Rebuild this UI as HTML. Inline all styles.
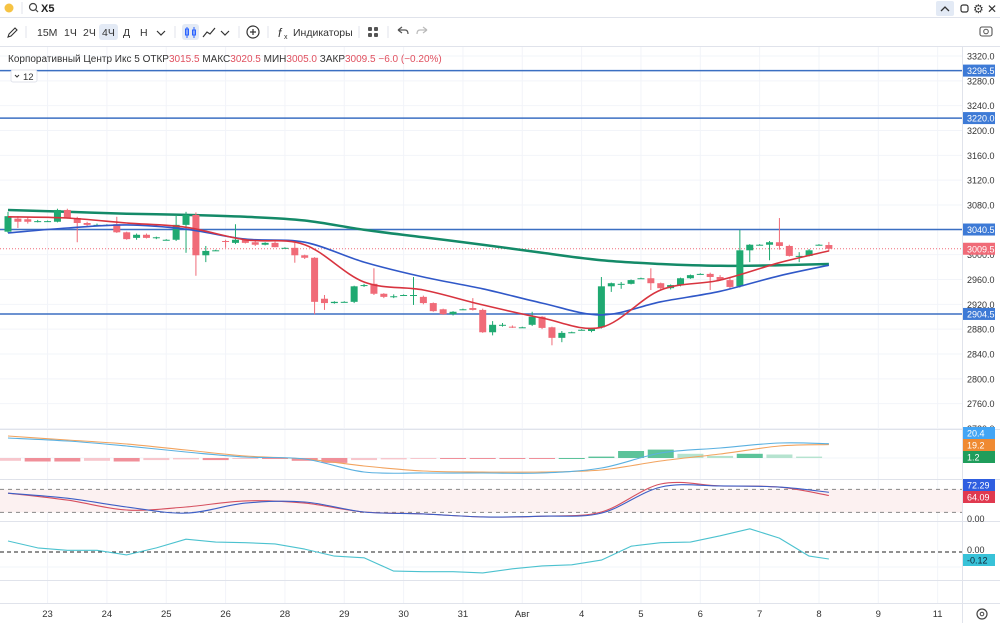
<!DOCTYPE html>
<html><head><meta charset="utf-8">
<style>
html,body{margin:0;padding:0;background:#fff;width:1000px;height:623px;overflow:hidden;font-family:"Liberation Sans","Noto Sans CJK SC",sans-serif}
svg text{font-family:"Liberation Sans","Noto Sans CJK SC",sans-serif}
</style></head>
<body>
<svg id="chart" width="1000" height="623" viewBox="0 0 1000 623" xmlns="http://www.w3.org/2000/svg">
  <g>
    <circle cx="9" cy="8" r="4.5" fill="#f6c343"/>
    <line x1="22" y1="2" x2="22" y2="14" stroke="#e0e3eb"/>
    <g>
      <circle cx="33" cy="7" r="3.5" fill="none" stroke="#444" stroke-width="1.2"/>
      <line x1="35.5" y1="9.5" x2="38" y2="12" stroke="#444" stroke-width="1.2"/>
      <text x="41" y="12" font-size="11" font-weight="bold" fill="#222">X5</text>
    </g>
    <rect x="936" y="1" width="18" height="15" rx="2" fill="#e3eaf5"/>
    <path d="M941 11 L945 7 L949 11" fill="none" stroke="#333" stroke-width="1.3"/>
    <rect x="961" y="5" width="7" height="7" rx="2" fill="none" stroke="#333" stroke-width="1.2"/>
    <text x="973" y="13" font-size="12" fill="#333">⚙</text>
    <text x="987" y="13" font-size="12" fill="#333">✕</text>
    <line x1="0" y1="17.5" x2="1000" y2="17.5" stroke="#e0e3eb"/>
  </g>
  <g font-size="10.5" fill="#333">
    <path d="M8 37 L9 34 L15 28 L17 30 L11 36 Z" fill="none" stroke="#333" stroke-width="1.1"/>
    <line x1="26" y1="26" x2="26" y2="38" stroke="#e0e3eb"/>
    <text x="37" y="36" fill="#333">15М</text>
    <text x="64" y="36" fill="#333">1Ч</text>
    <text x="83" y="36" fill="#333">2Ч</text>
    <rect x="99" y="24" width="19" height="16" rx="3" fill="#e3eaf5"/>
    <text x="102" y="36" fill="#333">4Ч</text>
    <text x="123" y="36" fill="#333">Д</text>
    <text x="140" y="36" fill="#333">Н</text>
    <path d="M157 31 L161 35 L165 31" fill="none" stroke="#333" stroke-width="1.2"/>
    <line x1="175" y1="26" x2="175" y2="38" stroke="#e0e3eb"/>
    <rect x="182" y="24" width="17" height="16" rx="3" fill="#e3eaf5"/>
    <path d="M187 27 V38 M194 27 V38" stroke="#2962ff" stroke-width="1"/>
    <rect x="185.5" y="29" width="3" height="6" fill="none" stroke="#2962ff"/>
    <rect x="192.5" y="30" width="3" height="5" fill="none" stroke="#2962ff"/>
    <path d="M203 37 L207 32 L210 34 L215 28" fill="none" stroke="#333" stroke-width="1.2"/>
    <path d="M221 31 L225 35 L229 31" fill="none" stroke="#333" stroke-width="1.2"/>
    <line x1="239" y1="26" x2="239" y2="38" stroke="#e0e3eb"/>
    <g>
      <circle cx="253" cy="32" r="6" fill="none" stroke="#333" stroke-width="1.2"/>
      <path d="M250 32 H256 M253 29 V35" stroke="#333" stroke-width="1.2"/>
    </g>
    <line x1="268" y1="26" x2="268" y2="38" stroke="#e0e3eb"/>
    <g>
      <text x="278" y="37" font-size="12" font-style="italic" fill="#333">f</text>
      <text x="284" y="39" font-size="7" fill="#333">x</text>
      <text x="293" y="36" fill="#333">Индикаторы</text>
    </g>
    <line x1="359" y1="26" x2="359" y2="38" stroke="#e0e3eb"/>
    <g fill="#555">
      <rect x="368" y="27" width="4" height="4" rx="1"/><rect x="374" y="27" width="4" height="4" rx="1"/>
      <rect x="368" y="33" width="4" height="4" rx="1"/><rect x="374" y="33" width="4" height="4" rx="1"/>
    </g>
    <line x1="388" y1="26" x2="388" y2="38" stroke="#e0e3eb"/>
    <path d="M398 30 L402 27 M398 30 L402 33 M398 30 H405 Q408 30 408 34" fill="none" stroke="#555" stroke-width="1.2"/>
    <path d="M427 30 L423 27 M427 30 L423 33 M427 30 H420 Q417 30 417 34" fill="none" stroke="#bbb" stroke-width="1.2"/>
    <g>
      <rect x="980" y="27" width="12" height="9" rx="2" fill="none" stroke="#555" stroke-width="1.1"/>
      <circle cx="986" cy="31.5" r="2.3" fill="none" stroke="#555" stroke-width="1"/>
    </g>
    <line x1="0" y1="46.5" x2="1000" y2="46.5" stroke="#e0e3eb"/>
  </g>
  <g id="grid"></g>
  <g id="panes"></g>
  <g id="price"></g>
  <g id="legend">
    <text x="8" y="62" font-size="10" fill="#333">Корпоративный Центр Икс 5 ОТКР<tspan fill="#e0505f">3015.5</tspan>  МАКС<tspan fill="#e0505f">3020.5</tspan>  МИН<tspan fill="#e0505f">3005.0</tspan>  ЗАКР<tspan fill="#e0505f">3009.5</tspan>  <tspan fill="#e0505f">−6.0 (−0.20%)</tspan></text>
    <g>
      <rect x="11" y="70" width="26" height="12" rx="2" fill="#fff" stroke="#e0e3eb"/>
      <path d="M15 75 L17 77 L19 75" fill="none" stroke="#333" stroke-width="1"/>
      <text x="23" y="80" font-size="9.5" fill="#333">12</text>
    </g>
  </g>
  <g id="axis"></g>
</svg>
<script>
const opens  = [3037,3058,3057,3054,3054,3053,3072,3059,3051,3048,3048,3049,3036,3027,3032,3027,3024,3024,3048,3064,2999,3007,3022,3019,3024,3020,3016,3019,3011,3011,2999,2995,2929,2922,2924,2924,2951,2953,2937,2932,2935,2935,2932,2922,2912,2904,2912,2914,2911,2875,2887,2884,2883,2887,2900,2883,2866,2875,2879,2877,2883,2949,2953,2953,2962,2962,2954,2946,2951,2962,2969,2969,2964,2959,2949,3007,3016,3016,3020,3014,2998,2998,3016,3015.5];
const highs  = [3069,3062,3060,3056,3055,3074,3074,3061,3053,3050,3049,3061,3037,3034,3034,3029,3025,3064,3069,3068,3014,3008,3024,3049,3025,3022,3020,3021,3012,3019,3000,2996,2935,2925,2925,2950,2953,2978,2938,2936,2936,2964,2934,2923,2913,2909,2913,2930,2913,2893,2890,2886,2884,2908,2901,2884,2877,2876,2880,2882,2964,2955,2956,2960,2963,2978,2955,2952,2963,2968,2970,2971,2967,2964,3040,3017,3017,3022,3059,3016,3004,3009,3017,3020.5];
const lows   = [3035,3043,3050,3052,3053,3052,3058,3020,3046,3046,3047,3035,3024,3024,3026,3025,3023,3022,3003,2966,2988,3006,3011,3017,3018,3014,3015,3012,3010,2987,2993,2904,2911,2921,2923,2922,2948,2935,2930,2930,2934,2919,2920,2908,2903,2902,2911,2910,2874,2870,2884,2882,2882,2885,2880,2854,2859,2874,2878,2875,2881,2940,2945,2952,2961,2943,2944,2944,2949,2961,2968,2943,2958,2945,2947,2988,3015,2991,3008,2997,2988,2997,3015,3005];
const closes = [3062,3053,3053,3054,3054,3072,3059,3051,3048,3048,3048,3036,3025,3032,3027,3028,3024,3048,3064,2999,3006,3007,3021,3024,3019,3016,3019,3012,3011,2999,2995,2924,2922,2924,2924,2949,2951,2937,2932,2933,2935,2935,2922,2909,2904,2908,2912,2911,2875,2887,2887,2883,2883,2900,2882,2866,2874,2875,2879,2882,2949,2954,2953,2959,2962,2954,2946,2951,2962,2967,2969,2964,2959,2948,3007,3016,3016,3020,3014,2998,2998,3007,3016,3009.5];
const maIdx   = [0,6,12,18,24,30,36,42,48,54,60,66,72,78,83];
const maFast  = [3061,3059,3051,3044,3024,3016,2956,2943,2919,2898,2883,2943,2959,2987,3006];
const maMid   = [3035,3043,3048,3041,3025,3020,2988,2964,2945,2922,2903,2924,2941,2966,2983];
const maSlow  = [3072,3069,3066,3064,3061,3055,3040,3028,3016,3003,2991,2985,2982,2983,2985];
const hLevels = [3296.5,3220.0,3040.5,2904.5];
const priceTicks = [3320,3280,3240,3200,3160,3120,3080,3040,3000,2960,2920,2880,2840,2800,2760,2720];
const lastPrice = 3009.5;
const macdLine   = [28.6,24.3,17.1,8.6,1.4,-1.4,-20,-21.4,-21.4,-21.4,-14.3,7.1,14.3,21.4,20.4];
const signalLine = [31.4,25.7,20,11.4,2.9,-1.4,-11.4,-18.6,-20,-20,-17.1,-4.3,5.7,17.1,19.2];
const histIdx  = [0,3,6,9,12,15,18,21,24,27,30,33,36,39,42,45,48,51,54,57,60,63,66,69,72,75,78,81];
const histVals = [-4,-5,-5,-4,-5,-3,-2,-3,-1,-1,-4,-7,-3,-2,-1,-1,-1,-1,-1,0,2,10,12,6,3,6,5,2];
const stochK = [70,57,34,18,44,47,21,16,8,10,18,86,89,86,72.29];
const stochD = [70,52,26,34,50,44,21,16,8,10,21,94,89,86,64.09];
const oscIdx  = [0,3,6,9,12,15,18,21,24,27,30,33,36,39,42,45,48,51,54,57,60,63,66,69,72,75,78,81,83];
const oscVals = [0.19,0.07,0.03,0.03,-0.05,0.07,0.22,0.17,0.16,0.14,0.05,-0.07,-0.10,-0.33,-0.34,-0.34,-0.36,-0.29,-0.24,-0.22,-0.14,0.10,0.16,0.17,0.28,0.40,0.24,-0.07,-0.12];
const dayLabels = ['23','24','25','26','28','29','30','31','Авг','4','5','6','7','8','9','11'];

const NS='http://www.w3.org/2000/svg';
function mk(tag, attrs, parent){const e=document.createElementNS(NS,tag);for(const k in attrs)e.setAttribute(k,attrs[k]);parent.appendChild(e);return e;}
const xOf = i => 8 + i*9.89;
const yP  = p => 56 + (3320-p)*0.6208;
const yM  = v => 458 - v*0.7;
const yS  = v => 520 - v*0.383;
const yO  = v => 552 - v*58;
const AX = 962;
const UP='#1fa971', DN='#f06b78';

const grid=document.getElementById('grid'), panes=document.getElementById('panes'), price=document.getElementById('price'), axis=document.getElementById('axis');

dayLabels.forEach((d,k)=>{
  const x=xOf(4+6*k);
  const g=mk('line',{x1:x,y1:47,x2:x,y2:603,stroke:'#f2f4f9'},grid);
  
  
});
priceTicks.forEach(p=>{
  const y=yP(p);
  const g=mk('line',{x1:0,y1:y,x2:AX,y2:y,stroke:'#f2f4f9'},grid);
  
  
});

mk('rect',{x:0,y:429,width:AX,height:175,fill:'#fff'},panes);
dayLabels.forEach((d,k)=>{const x=xOf(4+6*k);mk('line',{x1:x,y1:430,x2:x,y2:603,stroke:'#f2f4f9'},panes);});
[458,567].forEach(y=>mk('line',{x1:0,y1:y,x2:AX,y2:y,stroke:'#f2f4f9'},panes));
[429.5,479.5,521.5,580.5,603.5].forEach(y=>mk('line',{x1:0,y1:y,x2:1000,y2:y,stroke:'#e0e3eb'},panes));
mk('line',{x1:AX+0.5,y1:47,x2:AX+0.5,y2:623,stroke:'#e0e3eb'},panes);

function smooth(idx,vals,yf){
  const P=idx.map((i,k)=>[xOf(i),yf(vals[k])]);
  let d='M'+P[0][0].toFixed(1)+','+P[0][1].toFixed(1);
  for(let k=0;k<P.length-1;k++){
    const p0=P[k-1]||P[k], p1=P[k], p2=P[k+1], p3=P[k+2]||P[k+1];
    const c1=[p1[0]+(p2[0]-p0[0])/6, p1[1]+(p2[1]-p0[1])/6];
    const c2=[p2[0]-(p3[0]-p1[0])/6, p2[1]-(p3[1]-p1[1])/6];
    d+=' C'+c1[0].toFixed(1)+','+c1[1].toFixed(1)+' '+c2[0].toFixed(1)+','+c2[1].toFixed(1)+' '+p2[0].toFixed(1)+','+p2[1].toFixed(1);
  }
  return d;
}
function line(idx,vals,yf,color,w,parent,name,sm){
  let p;
  if(sm){p=mk('path',{d:smooth(idx,vals,yf),fill:'none',stroke:color,'stroke-width':w},parent);}
  else{const pts=idx.map((i,k)=>xOf(i).toFixed(1)+','+yf(vals[k]).toFixed(1)).join(' ');
  p=mk('polyline',{points:pts,fill:'none',stroke:color,'stroke-width':w,'stroke-linejoin':'round'},parent);}
  
  
  return p;
}

const clip=mk('clipPath',{id:'pc'},price); mk('rect',{x:0,y:47,width:AX,height:382},clip);
const pg=mk('g',{'clip-path':'url(#pc)'},price);
hLevels.forEach(l=>{
  const ln=mk('line',{x1:0,y1:yP(l),x2:AX,y2:yP(l),stroke:'#3b6fc2','stroke-width':1.5},pg);
  
  
});
const lp=mk('line',{x1:0,y1:yP(lastPrice),x2:AX,y2:yP(lastPrice),stroke:'#f06b78','stroke-dasharray':'1,2'},pg);


line(maIdx,maSlow,yP,'#148a68',2.5,pg,'ma-slow-line',true);
opens.forEach((o,i)=>{
  const c=closes[i], x=xOf(i), col=c>=o?UP:DN;
  const w=mk('line',{x1:x,y1:yP(highs[i]),x2:x,y2:yP(lows[i]),stroke:col,'stroke-width':1},pg);
  
  
  const t=yP(Math.max(o,c)), b=yP(Math.min(o,c));
  const r=mk('rect',{x:x-3.5,y:t,width:7,height:Math.max(1,b-t),fill:col},pg);
  
  
});
line(maIdx,maMid,yP,'#3058c8',1.6,pg,'ma-mid-line',true);
line(maIdx,maFast,yP,'#d8343f',1.6,pg,'ma-fast-line',true);

histIdx.forEach((i,k)=>{
  const v=histVals[k]; const y0=yM(0), y1=yM(v);
  const col=v>=0?(k>0&&v>=histVals[k-1]?'#5cc39a':'#b5e3cf'):(k>0&&v<=histVals[k-1]?'#f08f99':'#f7c6cc');
  const r=mk('rect',{x:xOf(i)-13,y:Math.min(y0,y1),width:26,height:Math.max(1,Math.abs(y1-y0)),fill:col},panes);
  
  
});
line(maIdx,signalLine,yM,'#f2a35e',1.1,panes,'macd-signal-line',true);
line(maIdx,macdLine,yM,'#5ab0e0',1.1,panes,'macd-line',true);

const band=mk('rect',{x:0,y:yS(80),width:AX,height:yS(20)-yS(80),fill:'#fcf1f1'},panes);


[80,20].forEach(v=>mk('line',{x1:0,y1:yS(v),x2:AX,y2:yS(v),stroke:'#888','stroke-dasharray':'4,4'},panes));
line(maIdx,stochD,yS,'#d6505f',1.1,panes,'stoch-d-line',true);
line(maIdx,stochK,yS,'#3d5fc6',1.1,panes,'stoch-k-line',true);

mk('line',{x1:0,y1:yO(0),x2:AX,y2:yO(0),stroke:'#222','stroke-dasharray':'4,3'},panes);
line(oscIdx,oscVals,yO,'#4cc2cf',1.1,panes,'oscillator-line',false);

priceTicks.forEach(p=>{
  const t=mk('text',{x:967,y:yP(p)+3.5,'font-size':9,fill:'#333'},axis);
  t.textContent=p.toFixed(1);
  
  
});
function tag(y,txt,bg,fg,name){
  const g=mk('g',{},axis);
  
  
  mk('rect',{x:963,y:y-6,width:32,height:12,fill:bg},g);
  const t=mk('text',{x:967,y:y+3.5,'font-size':9,fill:fg},g); t.textContent=txt;
}
hLevels.forEach(l=>tag(yP(l),l.toFixed(1),'#3d7ad6','#fff','level-price-tag'));
tag(yP(lastPrice),lastPrice.toFixed(1),'#f06b78','#fff','last-price-tag');
tag(433,macdLine[macdLine.length-1].toFixed(1),'#42a5f5','#fff','macd-value-tag');
tag(445,signalLine[signalLine.length-1].toFixed(1),'#ef8a32','#fff','signal-value-tag');
tag(457,(macdLine[macdLine.length-1]-signalLine[signalLine.length-1]).toFixed(1),'#1f9d5b','#fff','histogram-value-tag');
tag(485,stochK[stochK.length-1].toFixed(2),'#2f5ee0','#fff','stoch-k-tag');
tag(497,stochD[stochD.length-1].toFixed(2),'#e0394f','#fff','stoch-d-tag');
const z1=mk('text',{x:967,y:522,'font-size':9,fill:'#333'},axis); z1.textContent='0.00';
const z2=mk('text',{x:967,y:553,'font-size':9,fill:'#333'},axis); z2.textContent='0.00';
tag(560,oscVals[oscVals.length-1].toFixed(2),'#38c2d8','#123','oscillator-value-tag');
dayLabels.forEach((d,k)=>{
  const t=mk('text',{x:xOf(4+6*k),y:617,'font-size':9.5,fill:'#333','text-anchor':'middle'},axis);
  t.textContent=d;
  
  
});
const gear=mk('g',{},axis);


mk('circle',{cx:982,cy:614,r:5,fill:'none',stroke:'#444','stroke-width':1.2},gear);
mk('circle',{cx:982,cy:614,r:1.8,fill:'none',stroke:'#444','stroke-width':1},gear);
</script>
</body></html>
